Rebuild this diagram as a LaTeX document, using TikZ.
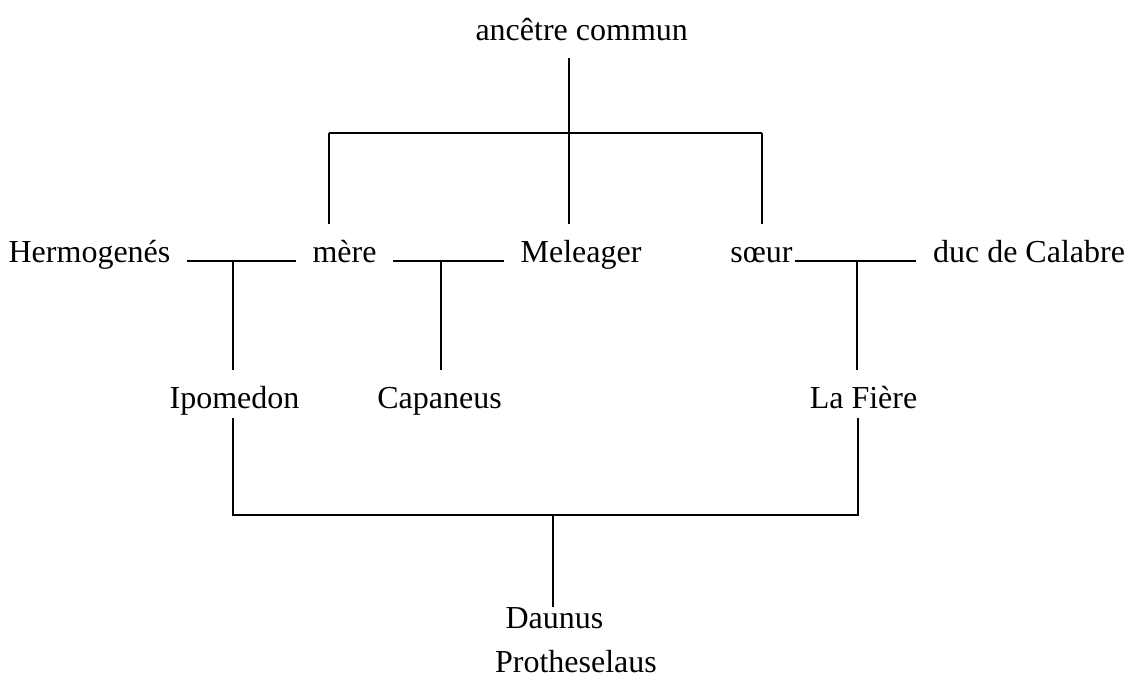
\documentclass[tikz,border=0pt]{standalone}
\usepackage{fontspec}
\setmainfont{Liberation Serif}
\usetikzlibrary{positioning}

\begin{document}
\begin{tikzpicture}[
    x=0.5pt, y=-0.5pt,
    line width=0.9pt,
    person/.style={anchor=base, font=\fontsize{16}{19}\selectfont,
        inner xsep=8pt, inner ysep=4.5pt, text height=14pt, text depth=0pt}
]
\useasboundingbox (0,0) rectangle (1131,686);

% Names
\node[person] (anc)    at (581.7,40)  {ancêtre commun};
\node[person] (herm)   at (89.5,262)  {Hermogenés};
\node[person] (mere)   at (344.5,262) {mère};
\node[person] (mel)    at (581,262)   {Meleager};
\node[person] (soeur)  at (761.5,262) {sœur};
\node[person] (duc)    at (1029,262)  {duc de Calabre};
\node[person] (ipo)    at (234.5,408) {Ipomedon};
\node[person] (cap)    at (439.5,408) {Capaneus};
\node[person] (fiere)  at (863.5,408) {La Fière};
\node[person] (daunus) at (554.5,628) {Daunus};
\node[person] (proth)  at (576,672)   {Protheselaus};

% Junctions
\coordinate (bar l) at (329,133);
\coordinate (bar m) at (569,133);
\coordinate (bar r) at (762,133);
\coordinate (m1) at (233,261);
\coordinate (m2) at (441,261);
\coordinate (m3) at (857,261);
\coordinate (low l) at (233,515);
\coordinate (low m) at (553,515);
\coordinate (low r) at (858,515);

% Common ancestor
\draw[shorten <=4pt] (anc.south -| bar m) -- (bar m);
\draw (bar l) -- (bar r);
\draw (bar l) -- (bar l |- mere.north);
\draw (bar m) -- (bar m |- mel.north);
\draw (bar r) -- (bar r |- soeur.north);

% Marriages
\draw ([yshift=0.5pt]herm.base east) -- ([yshift=0.5pt]mere.base west);
\draw ([yshift=0.5pt]mere.base east) -- ([yshift=0.5pt]mel.base west);
\draw[shorten <=-7.5pt] ([yshift=0.5pt]soeur.base east) -- ([yshift=0.5pt]duc.base west);

% Children
\draw (m1) -- (m1 |- ipo.north);
\draw (m2) -- (m2 |- cap.north);
\draw (m3) -- (m3 |- fiere.north);

% Daunus
\draw (low l |- ipo.south) -- (low l) -- (low r) -- (low r |- fiere.south);
\draw[shorten >=-8.5pt] (low m) -- (low m |- daunus.north);

\end{tikzpicture}
\end{document}
